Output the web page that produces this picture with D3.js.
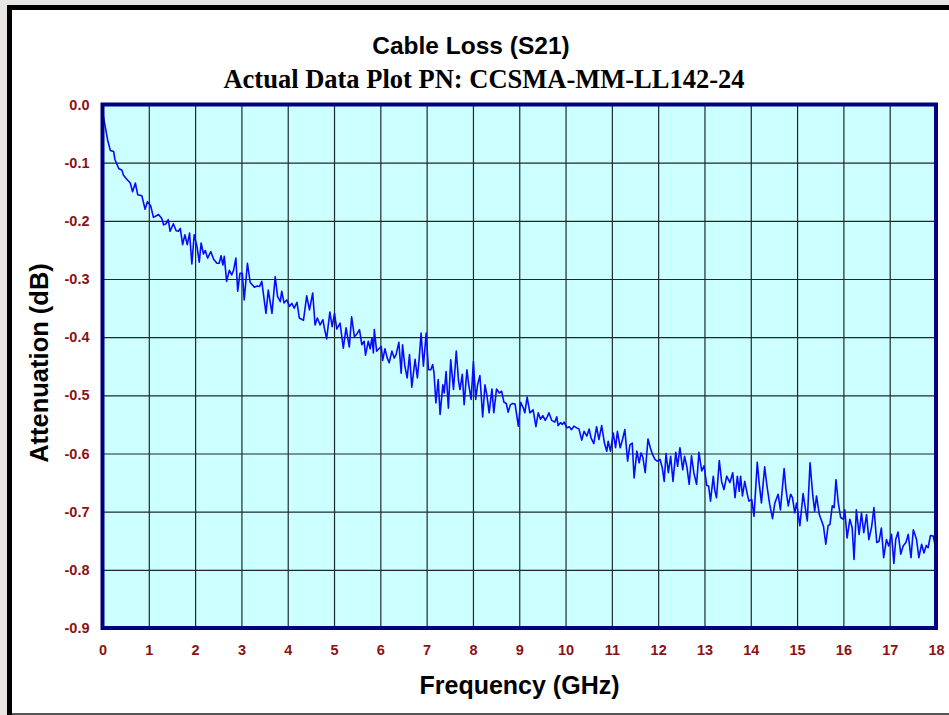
<!DOCTYPE html>
<html>
<head>
<meta charset="utf-8">
<script src="https://cdn.jsdelivr.net/npm/d3@7"></script>
<style>
  body { margin: 0; background: #e8e6e4; }
  svg { display: block; }
</style>
</head>
<body>
<svg id="chart" width="949" height="715"></svg>
<script>
// frequency (GHz) and S21 (dB)
var freq = [0,0.04,0.11,0.17,0.24,0.27,0.35,0.42,0.45,0.52,0.60,0.65,0.71,0.76,0.85,0.92,0.97,1.04,1.10,1.21,
  1.28,1.32,1.37,1.42,1.46,1.53,1.59,1.64,1.68,1.73,1.78,1.83,1.88,1.93,1.98,2.04,2.09,2.13,2.18,2.22,
  2.27,2.34,2.40,2.47,2.52,2.56,2.60,2.63,2.68,2.74,2.79,2.83,2.88,2.92,2.97,3.02,3.06,3.13,3.19,3.28,
  3.34,3.39,3.44,3.53,3.58,3.66,3.73,3.78,3.84,3.87,3.92,3.98,4.04,4.09,4.14,4.20,4.25,4.34,
  4.41,4.47,4.54,4.59,4.64,4.70,4.76,4.79,4.84,4.91,4.96,5.01,5.06,5.13,5.20,5.26,5.33,5.38,5.44,5.49,
  5.55,5.60,5.65,5.68,5.74,5.78,5.82,5.85,5.87,5.92,5.97,6.02,6.05,6.10,6.15,6.19,6.25,6.30,6.34,6.40,
  6.45,6.48,6.53,6.58,6.63,6.68,6.75,6.80,6.84,6.88,6.93,6.99,7.04,7.09,7.13,7.16,7.20,7.25,7.29,7.35,
  7.38,7.42,7.47,7.52,7.58,7.64,7.69,7.72,7.77,7.81,7.87,7.91,7.96,8.01,8.06,8.10,8.15,8.21,8.26,8.30,
  8.35,8.41,8.45,8.51,8.57,8.62,8.67,8.72,8.76,8.81,8.86,8.91,8.98,
  9.03,9.09,9.12,9.17,9.23,9.30,9.36,9.41,9.46,9.51,9.56,9.61,9.64,9.70,9.77,9.81,9.84,9.89,9.93,9.97,
  10.03,10.08,10.13,10.18,10.24,10.29,10.35,10.40,10.46,10.51,10.55,10.61,10.67,10.72,10.78,10.84,10.89,10.92,10.97,11.03,
  11.08,11.12,11.18,11.23,11.28,11.34,11.39,11.44,11.48,11.54,11.59,11.63,11.67,11.72,11.78,11.83,11.88,11.93,11.98,12.04,
  12.09,12.13,12.17,12.22,12.27,12.32,12.38,12.42,12.47,12.53,12.57,12.62,12.67,12.72,12.77,12.83,12.88,12.94,12.99,13.05,
  13.09,13.13,13.19,13.22,13.26,13.32,13.37,13.42,13.48,
  13.55,13.61,13.66,13.71,13.75,13.78,13.82,13.87,13.92,13.96,14.02,14.07,14.14,14.18,14.23,14.30,14.35,14.41,14.47,14.52,
  14.59,14.64,14.72,14.76,14.81,14.86,14.90,14.95,14.99,15.06,15.13,15.17,15.22,15.28,15.34,15.38,15.42,15.48,15.53,15.57,
  15.62,15.67,15.71,15.76,15.80,15.84,15.89,15.94,16.00,16.03,16.08,16.14,16.19,16.23,16.28,16.34,16.39,16.44,16.50,16.55,
  16.61,16.66,16.72,16.77,16.82,16.87,16.93,16.98,17.04,17.09,17.13,17.18,17.24,17.29,17.35,17.40,17.46,17.51,17.58,17.63,
  17.69,17.74,17.79,17.83,17.88,17.94,18.00];

var loss = [-0.012,-0.030,-0.061,-0.079,-0.081,-0.095,-0.110,-0.113,-0.121,-0.128,-0.135,-0.150,-0.135,-0.155,-0.157,-0.180,-0.167,-0.174,-0.194,-0.189,
  -0.196,-0.207,-0.205,-0.198,-0.218,-0.205,-0.217,-0.218,-0.213,-0.241,-0.224,-0.241,-0.221,-0.274,-0.224,-0.244,-0.271,-0.238,-0.257,-0.251,
  -0.264,-0.253,-0.266,-0.273,-0.273,-0.260,-0.276,-0.261,-0.304,-0.285,-0.293,-0.285,-0.264,-0.321,-0.290,-0.290,-0.336,-0.273,-0.306,-0.314,
  -0.312,-0.313,-0.304,-0.359,-0.319,-0.359,-0.296,-0.330,-0.339,-0.321,-0.341,-0.336,-0.347,-0.342,-0.350,-0.340,-0.367,-0.371,
  -0.329,-0.353,-0.324,-0.379,-0.367,-0.379,-0.370,-0.384,-0.403,-0.357,-0.382,-0.359,-0.386,-0.376,-0.419,-0.384,-0.417,-0.365,-0.399,-0.395,
  -0.387,-0.413,-0.407,-0.431,-0.407,-0.420,-0.401,-0.427,-0.387,-0.424,-0.420,-0.416,-0.440,-0.420,-0.436,-0.444,-0.424,-0.436,-0.430,-0.409,
  -0.462,-0.413,-0.450,-0.470,-0.430,-0.486,-0.438,-0.470,-0.436,-0.393,-0.450,-0.393,-0.456,-0.456,-0.447,-0.462,-0.513,-0.473,-0.533,-0.482,
  -0.496,-0.459,-0.522,-0.439,-0.490,-0.424,-0.476,-0.490,-0.464,-0.516,-0.456,-0.482,-0.507,-0.442,-0.507,-0.482,-0.466,-0.537,-0.482,-0.499,
  -0.530,-0.489,-0.530,-0.489,-0.496,-0.493,-0.512,-0.514,-0.529,-0.516,-0.514,-0.515,-0.553,
  -0.512,-0.522,-0.530,-0.503,-0.530,-0.525,-0.554,-0.530,-0.541,-0.535,-0.543,-0.536,-0.530,-0.543,-0.546,-0.537,-0.552,-0.547,-0.550,-0.546,
  -0.556,-0.554,-0.559,-0.553,-0.556,-0.558,-0.577,-0.562,-0.570,-0.558,-0.573,-0.583,-0.554,-0.576,-0.552,-0.582,-0.596,-0.579,-0.596,-0.565,
  -0.590,-0.562,-0.590,-0.576,-0.559,-0.613,-0.585,-0.582,-0.642,-0.596,-0.616,-0.599,-0.607,-0.633,-0.575,-0.590,-0.602,-0.610,-0.613,-0.610,
  -0.625,-0.648,-0.600,-0.633,-0.605,-0.648,-0.598,-0.622,-0.590,-0.628,-0.605,-0.623,-0.653,-0.604,-0.633,-0.653,-0.598,-0.630,-0.621,-0.655,
  -0.656,-0.682,-0.639,-0.662,-0.676,-0.612,-0.648,-0.662,-0.639,
  -0.650,-0.633,-0.676,-0.639,-0.665,-0.639,-0.673,-0.648,-0.668,-0.682,-0.679,-0.708,-0.615,-0.650,-0.685,-0.623,-0.656,-0.688,-0.712,-0.685,
  -0.670,-0.697,-0.626,-0.662,-0.690,-0.670,-0.676,-0.702,-0.685,-0.724,-0.669,-0.690,-0.716,-0.616,-0.673,-0.699,-0.673,-0.705,-0.716,-0.725,
  -0.756,-0.724,-0.722,-0.690,-0.693,-0.645,-0.685,-0.710,-0.713,-0.697,-0.745,-0.713,-0.728,-0.782,-0.697,-0.739,-0.702,-0.736,-0.705,-0.748,
  -0.726,-0.693,-0.753,-0.751,-0.728,-0.779,-0.748,-0.759,-0.739,-0.789,-0.748,-0.735,-0.773,-0.759,-0.753,-0.739,-0.779,-0.731,-0.748,-0.779,
  -0.756,-0.771,-0.758,-0.762,-0.741,-0.742,-0.765];

var xTicks = [0,1,2,3,4,5,6,7,8,9,10,11,12,13,14,15,16,17,18];
var yTicks = [0,-0.1,-0.2,-0.3,-0.4,-0.5,-0.6,-0.7,-0.8,-0.9];

var data = freq.map(function(f, i) { return {f: f, v: loss[i]}; });

var svg = d3.select("#chart");

// white panel with black frame
svg.append("rect").attr("x", 10).attr("y", 7.5).attr("width", 945).attr("height", 706)
  .attr("fill", "#fff");
svg.append("line").attr("x1", 9.5).attr("x2", 949).attr("y1", 7.5).attr("y2", 7.5)
  .attr("stroke", "#000").attr("stroke-width", 5);
svg.append("line").attr("x1", 9.5).attr("x2", 9.5).attr("y1", 5).attr("y2", 715)
  .attr("stroke", "#000").attr("stroke-width", 5);
svg.append("line").attr("x1", 12).attr("x2", 949).attr("y1", 714).attr("y2", 714)
  .attr("stroke", "#555").attr("stroke-width", 2);

var pLeft = 102.5, pRight = 936, pTop = 104.5, pBottom = 628;

var x = d3.scaleLinear().domain([0, 18]).range([pLeft, pRight]);
var y = d3.scaleLinear().domain([0, -0.9]).range([pTop, pBottom]);

svg.append("rect")
  .attr("x", pLeft).attr("y", pTop)
  .attr("width", pRight - pLeft).attr("height", pBottom - pTop)
  .attr("fill", "#ccffff");

// grid
svg.append("g")
  .attr("transform", "translate(0," + pBottom + ")")
  .call(d3.axisBottom(x).tickValues(xTicks).tickSize(-(pBottom - pTop)).tickFormat(""))
  .call(function(g) { g.select(".domain").remove(); })
  .selectAll("line").attr("stroke", "#1e2a2a").attr("stroke-width", 1.2);
svg.append("g")
  .attr("transform", "translate(" + pLeft + ",0)")
  .call(d3.axisLeft(y).tickValues(yTicks).tickSize(-(pRight - pLeft)).tickFormat(""))
  .call(function(g) { g.select(".domain").remove(); })
  .selectAll("line").attr("stroke", "#1e2a2a").attr("stroke-width", 1.2);

svg.append("path")
  .datum(data)
  .attr("fill", "none")
  .attr("stroke", "#0a0aff")
  .attr("stroke-width", 1.6)
  .attr("stroke-linejoin", "round")
  .attr("d", d3.line()
    .x(function(d) { return x(d.f); })
    .y(function(d) { return y(d.v); }));

svg.append("rect")
  .attr("x", pLeft).attr("y", pTop)
  .attr("width", pRight - pLeft).attr("height", pBottom - pTop)
  .attr("fill", "none").attr("stroke", "#000080").attr("stroke-width", 4);

// tick labels
var xAxis = svg.append("g")
  .attr("transform", "translate(0," + pBottom + ")")
  .call(d3.axisBottom(x).tickValues(xTicks).tickSize(0).tickPadding(17).tickFormat(d3.format("d")));
var yAxis = svg.append("g")
  .attr("transform", "translate(" + pLeft + ",0)")
  .call(d3.axisLeft(y).tickValues(yTicks).tickSize(0).tickPadding(13)
    .tickFormat(function(d) { return d.toFixed(1); }));
[xAxis, yAxis].forEach(function(a) {
  a.select(".domain").remove();
  a.selectAll("text")
    .attr("fill", "#8b1212")
    .style("font-family", "Arial, 'Liberation Sans', sans-serif")
    .style("font-size", "14.5px")
    .style("font-weight", "bold");
});

// titles
svg.append("text")
  .attr("x", 471).attr("y", 54)
  .attr("text-anchor", "middle")
  .style("font-family", "Arial, 'Liberation Sans', sans-serif")
  .style("font-size", "24.5px").style("font-weight", "bold")
  .text("Cable Loss (S21)");
svg.append("text")
  .attr("x", 484).attr("y", 88)
  .attr("text-anchor", "middle")
  .style("font-family", "'Times New Roman', 'Liberation Serif', serif")
  .style("font-size", "26.5px").style("font-weight", "bold")
  .text("Actual Data Plot PN: CCSMA-MM-LL142-24");
svg.append("text")
  .attr("x", 519.5).attr("y", 694)
  .attr("text-anchor", "middle")
  .style("font-family", "Arial, 'Liberation Sans', sans-serif")
  .style("font-size", "25px").style("font-weight", "bold")
  .text("Frequency (GHz)");
svg.append("text")
  .attr("transform", "translate(48,363) rotate(-90)")
  .attr("text-anchor", "middle")
  .style("font-family", "Arial, 'Liberation Sans', sans-serif")
  .style("font-size", "25.5px").style("font-weight", "bold")
  .text("Attenuation (dB)");
</script>
</body>
</html>
